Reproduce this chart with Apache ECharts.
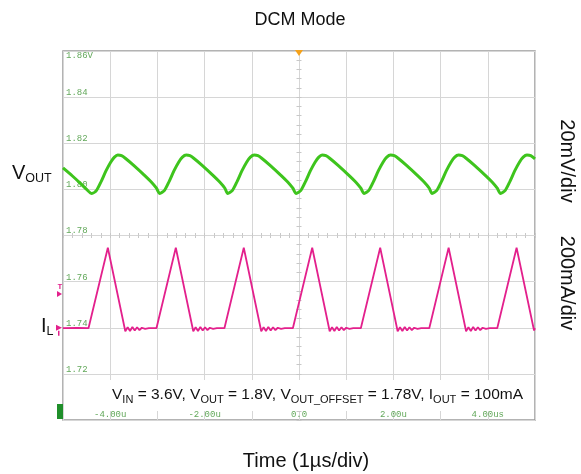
<!DOCTYPE html>
<html><head><meta charset="utf-8">
<script src="https://cdn.jsdelivr.net/npm/echarts@6/dist/echarts.min.js"></script>
<style>html,body{margin:0;padding:0;background:#fff}#c{width:581px;height:474px}</style>
</head><body><div id="c"></div>
<script>
// time in microseconds, values in scope screen units (V)
const voutTrace = [
  [-5.00,1.8093],[-4.80,1.8058],[-4.62,1.8024],[-4.50,1.8000],
  [-4.39,1.7982],[-4.29,1.7996],[-4.19,1.8035],[-4.09,1.8080],[-3.99,1.8118],[-3.91,1.8140],[-3.84,1.8149],[-3.76,1.8146],[-3.68,1.8135],[-3.49,1.8102],[-3.29,1.8064],[-3.12,1.8030],[-3.02,1.8005],
  [-2.95,1.7982],[-2.85,1.7996],[-2.75,1.8035],[-2.65,1.8080],[-2.55,1.8118],[-2.47,1.8140],[-2.39,1.8149],[-2.31,1.8146],[-2.23,1.8135],[-2.04,1.8102],[-1.84,1.8064],[-1.67,1.8030],[-1.57,1.8005],
  [-1.51,1.7982],[-1.41,1.7996],[-1.31,1.8035],[-1.21,1.8080],[-1.11,1.8118],[-1.03,1.8140],[-0.95,1.8149],[-0.87,1.8146],[-0.79,1.8135],[-0.60,1.8102],[-0.40,1.8064],[-0.23,1.8030],[-0.13,1.8005],
  [-0.06,1.7982],[0.04,1.7996],[0.14,1.8035],[0.24,1.8080],[0.34,1.8118],[0.42,1.8140],[0.49,1.8149],[0.57,1.8146],[0.65,1.8135],[0.84,1.8102],[1.04,1.8064],[1.21,1.8030],[1.31,1.8005],
  [1.38,1.7982],[1.48,1.7996],[1.58,1.8035],[1.68,1.8080],[1.78,1.8118],[1.86,1.8140],[1.94,1.8149],[2.02,1.8146],[2.10,1.8135],[2.29,1.8102],[2.49,1.8064],[2.66,1.8030],[2.76,1.8005],
  [2.82,1.7982],[2.92,1.7996],[3.02,1.8035],[3.12,1.8080],[3.22,1.8118],[3.30,1.8140],[3.38,1.8149],[3.46,1.8146],[3.54,1.8135],[3.73,1.8102],[3.93,1.8064],[4.10,1.8030],[4.20,1.8005],
  [4.27,1.7982],[4.37,1.7996],[4.47,1.8035],[4.57,1.8080],[4.67,1.8118],[4.75,1.8140],[4.83,1.8149],[4.91,1.8146],[5.00,1.8132]
];
const ilTrace = [
  [-5.00,1.7398],[-4.70,1.7399],[-4.46,1.7398],[-4.05,1.7747],[-3.68,1.7385],[-3.63,1.7402],[-3.58,1.7386],[-3.53,1.7403],[-3.48,1.7388],[-3.43,1.7402],[-3.38,1.7390],[-3.33,1.7400],[-3.26,1.7395],[-3.18,1.7398],
  [-3.02,1.7398],[-2.61,1.7747],[-2.24,1.7385],[-2.19,1.7402],[-2.14,1.7386],[-2.09,1.7403],[-2.04,1.7388],[-1.99,1.7402],[-1.94,1.7390],[-1.89,1.7400],[-1.82,1.7395],[-1.74,1.7398],
  [-1.58,1.7398],[-1.17,1.7747],[-0.80,1.7385],[-0.75,1.7402],[-0.70,1.7386],[-0.65,1.7403],[-0.60,1.7388],[-0.55,1.7402],[-0.50,1.7390],[-0.45,1.7400],[-0.38,1.7395],[-0.30,1.7398],
  [-0.13,1.7398],[0.28,1.7747],[0.65,1.7385],[0.70,1.7402],[0.75,1.7386],[0.80,1.7403],[0.85,1.7388],[0.90,1.7402],[0.95,1.7390],[1.00,1.7400],[1.07,1.7395],[1.15,1.7398],
  [1.31,1.7398],[1.72,1.7747],[2.09,1.7385],[2.14,1.7402],[2.19,1.7386],[2.24,1.7403],[2.29,1.7388],[2.34,1.7402],[2.39,1.7390],[2.44,1.7400],[2.51,1.7395],[2.59,1.7398],
  [2.76,1.7398],[3.17,1.7747],[3.54,1.7385],[3.59,1.7402],[3.64,1.7386],[3.69,1.7403],[3.74,1.7388],[3.79,1.7402],[3.84,1.7390],[3.89,1.7400],[3.96,1.7395],[4.04,1.7398],
  [4.20,1.7398],[4.61,1.7747],[4.98,1.7388],[5.00,1.7398]
];
const xTickValues = [-4, -2, 0, 2, 4];
const xTickLabels = ['-4.00u', '-2.00u', '0.0', '2.00u', '4.00us'];
const yTickValues = [1.72, 1.74, 1.76, 1.78, 1.80, 1.82, 1.84];
const yTickLabels = ['1.72', '1.74', '1.76', '1.78', '1.80', '1.82', '1.84'];
const yTopValue = 1.86;
const yTopLabel = '1.86V';

const labelGreen = '#62a85a';
const gridColor = '#d6d6d6';
const monoFont = 'Liberation Mono';
const sansFont = 'Liberation Sans';

function lookup(vals, labels, v) {
  for (let i = 0; i < vals.length; i++) if (Math.abs(vals[i] - v) < 1e-6) return labels[i];
  return '';
}

const chart = echarts.init(document.getElementById('c'), null, {renderer: 'canvas', width: 581, height: 474});

const option = {
  animation: false,
  backgroundColor: '#fff',
  grid: {left: 63, top: 51, width: 472, height: 369, show: true, borderColor: '#9a9a9a', borderWidth: 1.5, backgroundColor: 'transparent'},
  xAxis: [
    {type: 'value', min: -5, max: 5, interval: 1, position: 'bottom',
     axisLine: {show: false, onZero: false}, axisTick: {show: false},
     splitLine: {show: true, lineStyle: {color: gridColor, width: 1}},
     axisLabel: {inside: true, margin: 1, color: labelGreen, fontFamily: monoFont, fontSize: 9,
       showMinLabel: false, showMaxLabel: false,
       formatter: v => lookup(xTickValues, xTickLabels, v)}},
    {type: 'value', min: -5, max: 5, interval: 0.2, position: 'bottom',
     axisLine: {show: false, onZero: true, onZeroAxisIndex: 2},
     axisTick: {show: true, inside: true, length: 2.5, lineStyle: {color: '#c8c8c8'}},
     axisLabel: {show: false}, splitLine: {show: false}},
    {type: 'value', min: -5, max: 5, interval: 0.2, position: 'bottom',
     axisLine: {show: false, onZero: true, onZeroAxisIndex: 2},
     axisTick: {show: true, inside: false, length: 2.5, lineStyle: {color: '#c8c8c8'}},
     axisLabel: {show: false}, splitLine: {show: false}}
  ],
  yAxis: [
    {type: 'value', min: 1.70, max: 1.86, interval: 0.02, position: 'left',
     axisLine: {show: false, onZero: false}, axisTick: {show: false},
     splitLine: {show: true, lineStyle: {color: gridColor, width: 1}},
     axisLabel: {inside: true, margin: 3, verticalAlign: 'bottom', color: labelGreen, fontFamily: monoFont, fontSize: 9,
       showMinLabel: false, showMaxLabel: false,
       formatter: v => lookup(yTickValues, yTickLabels, Math.round(v * 100) / 100)}},
    {type: 'value', min: 1.70, max: 1.86, interval: 0.02, position: 'left',
     axisLine: {show: false, onZero: false}, axisTick: {show: false}, splitLine: {show: false},
     axisLabel: {inside: true, margin: 3, verticalAlign: 'top', color: labelGreen, fontFamily: monoFont, fontSize: 9,
       formatter: v => Math.abs(v - yTopValue) < 1e-6 ? yTopLabel : ''}},
    {type: 'value', min: -4, max: 4, show: false, axisLine: {onZero: false}},
    {type: 'value', min: 1.70, max: 1.86, interval: 0.004, position: 'left',
     axisLine: {show: false, onZero: true, onZeroAxisIndex: 0},
     axisTick: {show: true, inside: true, length: 2.5, lineStyle: {color: '#c8c8c8'}},
     axisLabel: {show: false}, splitLine: {show: false}},
    {type: 'value', min: 1.70, max: 1.86, interval: 0.004, position: 'left',
     axisLine: {show: false, onZero: true, onZeroAxisIndex: 0},
     axisTick: {show: true, inside: false, length: 2.5, lineStyle: {color: '#c8c8c8'}},
     axisLabel: {show: false}, splitLine: {show: false}}
  ],
  series: [
    {name: 'VOUT', type: 'line', xAxisIndex: 0, yAxisIndex: 0, data: voutTrace, showSymbol: false, symbol: 'none',
     smooth: 0.25, lineStyle: {color: '#3ec41d', width: 3}, z: 3},
    {name: 'IL', type: 'line', xAxisIndex: 0, yAxisIndex: 0, data: ilTrace, showSymbol: false, symbol: 'none',
     lineStyle: {color: '#e3208c', width: 1.8}, z: 4}
  ]
};
chart.setOption(option);

const topC = chart.convertToPixel({xAxisIndex: 0, yAxisIndex: 0}, [0, 1.86]);
const trigY = chart.convertToPixel({yAxisIndex: 0}, 1.7546);
const ilY = chart.convertToPixel({yAxisIndex: 0}, 1.74);
const gl = 63;

chart.setOption({
  graphic: [
    {type: 'text', x: 300, y: 20, style: {text: 'DCM Mode', font: '18px "Liberation Sans"', fill: '#111', align: 'center', verticalAlign: 'middle'}},
    {type: 'text', x: 306, y: 461, style: {text: 'Time (1\u00b5s/div)', font: '20px "Liberation Sans"', fill: '#111', align: 'center', verticalAlign: 'middle'}},
    {type: 'text', x: 567, y: 161, rotation: -Math.PI / 2, style: {text: '20mV/div', font: '20px "Liberation Sans"', fill: '#111', align: 'center', verticalAlign: 'middle'}},
    {type: 'text', x: 567, y: 283, rotation: -Math.PI / 2, style: {text: '200mA/div', font: '20px "Liberation Sans"', fill: '#111', align: 'center', verticalAlign: 'middle'}},
    {type: 'text', x: 12, y: 161, style: {text: '{n|V}{s|OUT}', rich: {
      n: {fontSize: 20, fontFamily: sansFont, fill: '#111', lineHeight: 24},
      s: {fontSize: 12.5, fontFamily: sansFont, fill: '#111', lineHeight: 16, verticalAlign: 'bottom'}}}},
    {type: 'text', x: 41, y: 314, style: {text: '{n|I}{s|L}', rich: {
      n: {fontSize: 20, fontFamily: sansFont, fill: '#111', lineHeight: 24},
      s: {fontSize: 12.5, fontFamily: sansFont, fill: '#111', lineHeight: 16, verticalAlign: 'bottom'}}}},
    {type: 'rect', shape: {x: 66, y: 380, width: 467, height: 31}, style: {fill: '#fff'}, z: 50},
    {type: 'text', x: 112, y: 385, z: 51, style: {text: '{n|V}{s|IN}{n| = 3.6V, V}{s|OUT}{n| = 1.8V, V}{s|OUT_OFFSET}{n| = 1.78V, I}{s|OUT}{n| = 100mA}', rich: {
      n: {fontSize: 15.5, fontFamily: sansFont, fill: '#111', lineHeight: 20},
      s: {fontSize: 11, fontFamily: sansFont, fill: '#111', lineHeight: 14, verticalAlign: 'bottom'}}}},
    {type: 'polygon', z: 60, shape: {points: [[topC[0] - 4, topC[1] - 1], [topC[0] + 4, topC[1] - 1], [topC[0], topC[1] + 5]]}, style: {fill: '#f5a21b'}},
    {type: 'text', x: gl - 3, y: trigY - 7, z: 60, style: {text: 'T', font: 'bold 8px "Liberation Mono"', fill: '#e3208c', align: 'center', verticalAlign: 'middle'}},
    {type: 'polygon', z: 60, shape: {points: [[gl - 6, trigY - 3], [gl - 6, trigY + 3], [gl - 1, trigY]]}, style: {fill: '#e3208c'}},
    {type: 'polygon', z: 60, shape: {points: [[gl - 7, ilY - 3], [gl - 7, ilY + 3], [gl - 1, ilY]]}, style: {fill: '#e3208c'}},
    {type: 'rect', z: 60, shape: {x: gl - 5, y: ilY + 3, width: 1.5, height: 5}, style: {fill: '#e3208c'}},
    {type: 'rect', z: 60, shape: {x: gl - 6, y: 404, width: 6, height: 15}, style: {fill: '#1f8f2a'}}
  ]
});
</script>
</body></html>
